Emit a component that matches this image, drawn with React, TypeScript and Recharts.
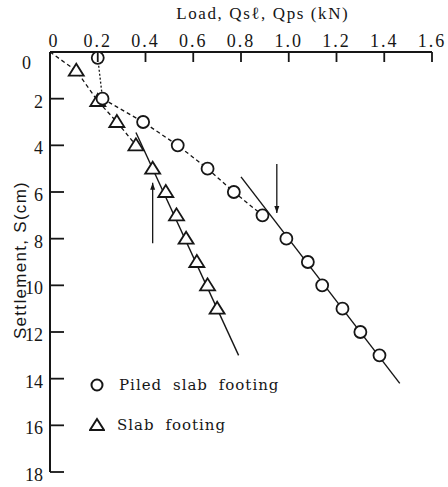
import React from "react";
import { ComposedChart, XAxis, YAxis, Scatter } from "recharts";

// axis ticks
const loadTicks = [0, 0.2, 0.4, 0.6, 0.8, 1.0, 1.2, 1.4, 1.6];
const settleTicks = [0, 2, 4, 6, 8, 10, 12, 14, 16, 18];

// piled slab footing (circles)
const pileLoad = [0.2, 0.22, 0.39, 0.535, 0.66, 0.77, 0.89, 0.99, 1.08, 1.14, 1.225, 1.3, 1.38];
const pileSettle = [0.25, 2, 3, 4, 5, 6, 7, 8, 9, 10, 11, 12, 13];

// slab footing (triangles)
const slabLoad = [0.11, 0.2, 0.28, 0.36, 0.43, 0.485, 0.53, 0.57, 0.615, 0.66, 0.7];
const slabSettle = [0.8, 2.1, 3, 4, 5, 6, 7, 8, 9, 10, 11];

// dashed initial curves
const slabDashLoad = [0, 0.11, 0.2, 0.28, 0.36];
const slabDashSettle = [0, 0.8, 2.1, 3, 4];
const pileDotLoad = [0.2, 0.22];
const pileDotSettle = [0.25, 2];
const pileDashLoad = [0.22, 0.39, 0.535, 0.66, 0.77, 0.89];
const pileDashSettle = [2, 3, 4, 5, 6, 7];

// fitted straight lines
const slabFitLoad = [0.36, 0.79];
const slabFitSettle = [3.45, 13];
const pileFitLoad = [0.8, 1.465];
const pileFitSettle = [5.35, 14.2];

// arrows (tail -> head)
const upArrowLoad = [0.43, 0.43];
const upArrowSettle = [8.2, 5.6];
const downArrowLoad = [0.95, 0.95];
const downArrowSettle = [4.8, 6.9];

const pts = (xs: number[], ys: number[]) => xs.map((x, i) => ({ x, y: ys[i] }));

const INK = "#161616";
const serif = "Liberation Serif, serif";

const Circle = (p: any) => (
  <circle cx={p.cx} cy={p.cy} r={6} fill="#fff" stroke={INK} strokeWidth={1.8} />
);

const Triangle = (p: any) => (
  <polygon
    points={`${p.cx},${p.cy - 7} ${p.cx - 7.5},${p.cy + 5} ${p.cx + 7.5},${p.cy + 5}`}
    fill="#fff"
    stroke={INK}
    strokeWidth={1.8}
  />
);

const Blank = () => <g />;

const Head = (p: any) => {
  const up = p.payload.up;
  const { cx, cy } = p;
  const pts = up
    ? `${cx},${cy} ${cx - 2.5},${cy + 7} ${cx + 2.5},${cy + 7}`
    : `${cx},${cy} ${cx - 2.5},${cy - 7} ${cx + 2.5},${cy - 7}`;
  return <polygon points={pts} fill={INK} stroke="none" />;
};

const LoadTick = (p: any) => {
  const { x, y, payload } = p;
  const v = payload.value;
  return (
    <g>
      {v !== 0 && <line x1={x} y1={y} x2={x} y2={y + 10} stroke={INK} strokeWidth={1.8} />}
      <text
        x={v === 0 ? x + 4 : x}
        y={y - 5}
        textAnchor="middle"
        fontFamily={serif}
        fontSize={18}
        letterSpacing={2}
        fill={INK}
      >
        {v === 0 ? "0" : v.toFixed(1)}
      </text>
    </g>
  );
};

const SettleTick = (p: any) => {
  const { x, y, payload } = p;
  const v = payload.value;
  return (
    <g>
      {v !== 0 && <line x1={x} y1={y} x2={x + 14} y2={y} stroke={INK} strokeWidth={1.8} />}
      <text
        x={v === 0 ? x - 19 : x - 7}
        y={v === 0 ? y + 17 : y + 9}
        textAnchor="end"
        fontFamily={serif}
        fontSize={18}
        fill={INK}
      >
        {v}
      </text>
    </g>
  );
};

const legendRow = { display: "flex", alignItems: "center", height: 40 } as const;

export default function App() {
  return (
    <div style={{ position: "absolute", left: 0, top: 0, width: 448, height: 487 }}>
      <ComposedChart width={448} height={487} margin={{ top: 42, right: 16, bottom: 15, left: 40 }}>
        <XAxis
          type="number"
          dataKey="x"
          orientation="top"
          domain={[0, 1.6]}
          ticks={loadTicks}
          allowDataOverflow
          height={10}
          tickSize={0}
          tickMargin={0}
          tickLine={false}
          tick={<LoadTick />}
          axisLine={{ stroke: INK, strokeWidth: 2 }}
          label={{
            content: (lp: any) => (
              <text
                x={lp.viewBox.x + lp.viewBox.width * 0.557}
                y={19}
                textAnchor="middle"
                fontFamily={serif}
                fontSize={17}
                letterSpacing={1.6}
                fill={INK}
              >
                Load, Qsℓ, Qps (kN)
              </text>
            ),
          }}
        />
        <YAxis
          type="number"
          dataKey="y"
          domain={[0, 18]}
          ticks={settleTicks}
          reversed
          allowDataOverflow
          width={10}
          tickSize={0}
          tickMargin={0}
          tickLine={false}
          tick={<SettleTick />}
          axisLine={{ stroke: INK, strokeWidth: 2 }}
          label={{
            content: (lp: any) => {
              const cx = lp.viewBox.x - 20;
              const cy = lp.viewBox.y + lp.viewBox.height / 2 - 2;
              return (
                <text
                  x={cx}
                  y={cy}
                  transform={`rotate(-90 ${cx} ${cy})`}
                  textAnchor="middle"
                  dominantBaseline="central"
                  fontFamily="Liberation Sans, sans-serif"
                  fontSize={17}
                  letterSpacing={1.3}
                  fill={INK}
                >
                  Settlement, S(cm)
                </text>
              );
            },
          }}
        />

        {/* connecting lines */}
        <Scatter data={pts(slabDashLoad, slabDashSettle)} shape={<Blank />} fill={INK}
          line={{ stroke: INK, strokeWidth: 1.3, strokeDasharray: "4 3" }} isAnimationActive={false} />
        <Scatter data={pts(pileDotLoad, pileDotSettle)} shape={<Blank />} fill={INK}
          line={{ stroke: INK, strokeWidth: 1.3, strokeDasharray: "2 2" }} isAnimationActive={false} />
        <Scatter data={pts(pileDashLoad, pileDashSettle)} shape={<Blank />} fill={INK}
          line={{ stroke: INK, strokeWidth: 1.3, strokeDasharray: "4 3" }} isAnimationActive={false} />
        <Scatter data={pts(slabFitLoad, slabFitSettle)} shape={<Blank />} fill={INK}
          line={{ stroke: INK, strokeWidth: 1.4 }} isAnimationActive={false} />
        <Scatter data={pts(pileFitLoad, pileFitSettle)} shape={<Blank />} fill={INK}
          line={{ stroke: INK, strokeWidth: 1.4 }} isAnimationActive={false} />

        {/* arrows */}
        <Scatter data={pts(upArrowLoad, upArrowSettle)} shape={<Blank />} fill={INK}
          line={{ stroke: INK, strokeWidth: 1.3 }} isAnimationActive={false} />
        <Scatter data={pts(downArrowLoad, downArrowSettle)} shape={<Blank />} fill={INK}
          line={{ stroke: INK, strokeWidth: 1.3 }} isAnimationActive={false} />
        <Scatter
          data={[
            { x: upArrowLoad[1], y: upArrowSettle[1], up: true },
            { x: downArrowLoad[1], y: downArrowSettle[1], up: false },
          ]}
          shape={<Head />}
          isAnimationActive={false}
        />

        {/* markers */}
        <Scatter data={pts(slabLoad, slabSettle)} shape={<Triangle />} isAnimationActive={false} />
        <Scatter data={pts(pileLoad, pileSettle)} shape={<Circle />} isAnimationActive={false} />
      </ComposedChart>

      <div
        style={{
          position: "absolute",
          left: 89,
          top: 365,
          fontFamily: "DejaVu Serif, serif",
          fontSize: 15,
          letterSpacing: 1,
          wordSpacing: 5,
          color: INK,
        }}
      >
        <div style={legendRow}>
          <svg width={16} height={16} style={{ marginRight: 14 }}>
            <circle cx={8} cy={8} r={5.5} fill="#fff" stroke={INK} strokeWidth={2} />
          </svg>
          <span>Piled slab footing</span>
        </div>
        <div style={legendRow}>
          <svg width={16} height={16} style={{ marginRight: 12 }}>
            <polygon points="8,2 1,13 15,13" fill="#fff" stroke={INK} strokeWidth={2} />
          </svg>
          <span>Slab footing</span>
        </div>
      </div>
    </div>
  );
}
